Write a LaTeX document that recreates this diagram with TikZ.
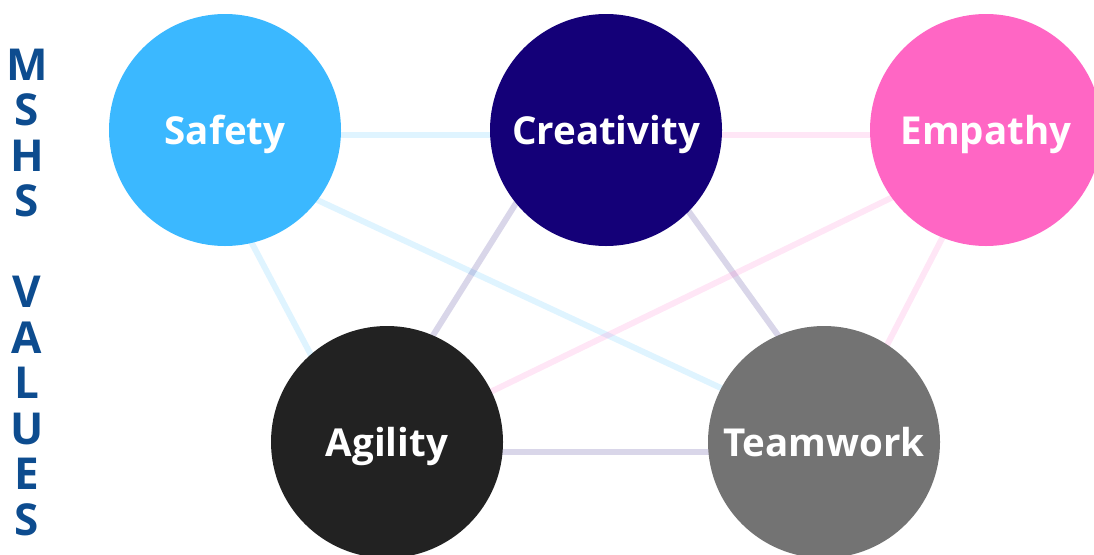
\documentclass[tikz,border=0pt]{standalone}
\usepackage{fontspec}
\setmainfont{Open Sans}
\usetikzlibrary{backgrounds}

\definecolor{safetyblue}{HTML}{3BB8FF}
\definecolor{creativityblue}{HTML}{140078}
\definecolor{empathypink}{HTML}{FF66C4}
\definecolor{agilityblack}{HTML}{222222}
\definecolor{teamworkgray}{HTML}{737373}
\definecolor{titleblue}{HTML}{0D4C8F}

\begin{document}
\begin{tikzpicture}[
	x=1pt, y=-1pt,
	valuenode/.style={shape=circle, inner sep=0pt, minimum size=232pt, text=white,
		font=\fontsize{38.5}{46}\selectfont\bfseries, text height=28pt, text depth=0pt},
	titleletter/.style={anchor=base, text=titleblue, font=\fontsize{44}{50}\selectfont\bfseries},
	blueline/.style={line width=6pt, draw=safetyblue, draw opacity=0.16},
	purpleline/.style={line width=6pt, draw=creativityblue, draw opacity=0.16},
	pinkline/.style={line width=6pt, draw=empathypink, draw opacity=0.16},
]
\useasboundingbox (0,0) rectangle (1094,554);

\node[valuenode, fill=safetyblue] (safety) at (225,130) {Safety};
\node[valuenode, fill=creativityblue] (creativity) at (606,130) {Creativity};
\node[valuenode, fill=empathypink] (empathy) at (986,130) {Empathy};
\node[valuenode, fill=agilityblack] (agility) at (387,442) {Agility};
\node[valuenode, fill=teamworkgray] (teamwork) at (824,442) {Teamwork};

% connectors behind the circles
\begin{scope}[on background layer]
\draw[blueline] ([yshift=-5pt]safety.center) -- ([yshift=-5pt]creativity.center);
\draw[blueline] ([xshift=-33pt]safety.center) -- ([xshift=-30pt]agility.center);
\draw[blueline] ([yshift=-27pt]safety.center) -- ([yshift=6pt]teamwork.center);
\draw[purpleline] ([xshift=-44pt]creativity.center) -- ([xshift=-21pt]agility.center);
\draw[purpleline] ([xshift=24pt]creativity.center) -- ([xshift=31pt]teamwork.center);
\draw[purpleline] ([yshift=-10pt]agility.center) -- ([yshift=-10pt]teamwork.center);
\draw[pinkline] ([yshift=-5pt]creativity.center) -- ([yshift=-5pt]empathy.center);
\draw[pinkline] ([yshift=-22pt]empathy.center) -- (agility.center);
\draw[pinkline] ([xshift=12pt]empathy.center) -- ([xshift=13pt]teamwork.center);
\end{scope}

% vertical title
\foreach \l/\n in {M/0,S/1,H/2,S/3,V/5,A/6,L/7,U/8,E/9,S/10}
	\node[titleletter] (title\n) at (27,80+45.5*\n) {\l};
\end{tikzpicture}
\end{document}
